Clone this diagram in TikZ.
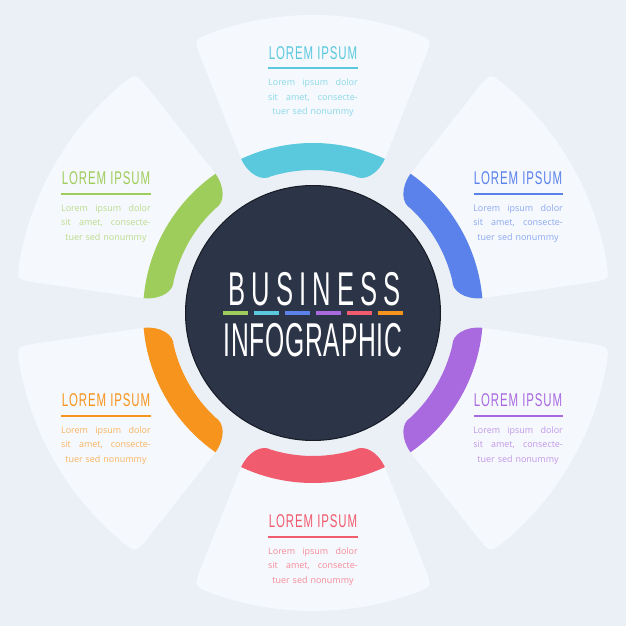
\documentclass[tikz,border=0pt]{standalone}
\usepackage{fontspec}
\usetikzlibrary{positioning}
\newfontfamily\headfont[FakeStretch=0.62,LetterSpace=5]{Liberation Sans}
\newfontfamily\busfont[FakeStretch=0.54,LetterSpace=13]{Liberation Sans}
\newfontfamily\infofont[FakeStretch=0.52,LetterSpace=1.5]{Liberation Sans}
\newfontfamily\bodyfont{Open Sans}
\definecolor{bgC}{HTML}{EBF0F7}
\definecolor{petalC}{HTML}{F5F8FD}
\definecolor{cyanC}{HTML}{5AC9DD}
\definecolor{blueC}{HTML}{5B82EA}
\definecolor{purpleC}{HTML}{A96AE0}
\definecolor{redC}{HTML}{F05B6D}
\definecolor{orangeC}{HTML}{F7941D}
\definecolor{greenC}{HTML}{9FCD5B}
\definecolor{discC}{HTML}{2C3548}
\definecolor{discD}{HTML}{222939}
\definecolor{discE}{HTML}{171C26}
\pgfdeclareradialshading{discshade}{\pgfpoint{0bp}{0bp}}{color(0bp)=(discC); color(34bp)=(discC); color(48bp)=(discD); color(50bp)=(discE)}
\newcommand{\loremtext}{\makebox[51pt][s]{Lorem\hfill ipsum\hfill dolor}\\\makebox[51pt][s]{sit\hfill amet,\hfill consecte-}\\tuer sed nonummy}
\tikzset{
    petal/.style={fill=petalC},
    band/.style={fill=#1},
    disc/.style={
           circle,
           minimum size=145.1pt,
           inner sep=0pt,
           shading=discshade,
           draw=discE, line width=0.6pt,
           },
    head/.style={
           font=\headfont\fontsize{10.5}{12}\selectfont,
           text=#1,
           inner xsep=0pt, inner ysep=4.8pt,
           },
    body/.style={
           font=\bodyfont\fontsize{5.1}{8.2}\selectfont,
           text=#1!70!white,
           text width=51pt, align=center,
           inner sep=0pt,
           },
    rule/.style={draw=#1, line width=1.1pt},
    title/.style={text=white, inner sep=0pt},
}

\begin{document}
\begin{tikzpicture}[scale=0.02, node distance=6pt]
   \fill[bgC] (-313,-313) rectangle (313,313);
   \foreach \a/\c in {90/cyanC,30/blueC,-30/purpleC,-90/redC,-150/orangeC,150/greenC}{
      \fill[petal] (\a-25:170) -- (\a-23.7:281) .. controls (\a-23.5:298) .. (\a-20.3:298)
         arc[start angle=\a-20.3, end angle=\a+20.3, radius=298]
         .. controls (\a+23.5:298) .. (\a+23.7:281) -- (\a+25:170)
         arc[start angle=\a+25, end angle=\a-25, radius=170] -- cycle;
      \fill[band=\c] (\a+25:170) arc[start angle=\a+25, end angle=\a-25, radius=170]
         .. controls (\a-25:152) and (\a-21:141) .. (\a-17:143)
         arc[start angle=\a-17, end angle=\a+17, radius=143]
         .. controls (\a+21:141) and (\a+25:152) .. (\a+25:170) -- cycle;
   }
   \node[disc] (core) at (0,0) {};
   \node[title, font=\busfont\fontsize{27}{30}\selectfont] (biz) at (1.5,24) {BUSINESS};
   \node[title, font=\infofont\fontsize{27}{30}\selectfont] (info) at (0,-27.5) {INFOGRAPHIC};
   \foreach \c [count=\i] in {greenC,cyanC,blueC,purpleC,redC,orangeC}
      \fill[\c] (-121+31*\i,-2) rectangle ++(25,4);

   \node[head=cyanC] (head_1) at (0,260) {LOREM IPSUM};
   \node[body=cyanC, below=of head_1] (body_1) {\loremtext};
   \draw[rule=cyanC] (head_1.south west) -- (head_1.south east);

   \node[head=blueC] (head_2) at (205,134.5) {LOREM IPSUM};
   \node[body=blueC, below=of head_2] (body_2) {\loremtext};
   \draw[rule=blueC] (head_2.south west) -- (head_2.south east);

   \node[head=purpleC] (head_3) at (205,-87.5) {LOREM IPSUM};
   \node[body=purpleC, below=of head_3] (body_3) {\loremtext};
   \draw[rule=purpleC] (head_3.south west) -- (head_3.south east);

   \node[head=redC] (head_4) at (0,-208.5) {LOREM IPSUM};
   \node[body=redC, below=of head_4] (body_4) {\loremtext};
   \draw[rule=redC] (head_4.south west) -- (head_4.south east);

   \node[head=orangeC] (head_5) at (-207,-87.5) {LOREM IPSUM};
   \node[body=orangeC, below=of head_5] (body_5) {\loremtext};
   \draw[rule=orangeC] (head_5.south west) -- (head_5.south east);

   \node[head=greenC] (head_6) at (-207,134.5) {LOREM IPSUM};
   \node[body=greenC, below=of head_6] (body_6) {\loremtext};
   \draw[rule=greenC] (head_6.south west) -- (head_6.south east);
\end{tikzpicture}
\end{document}
